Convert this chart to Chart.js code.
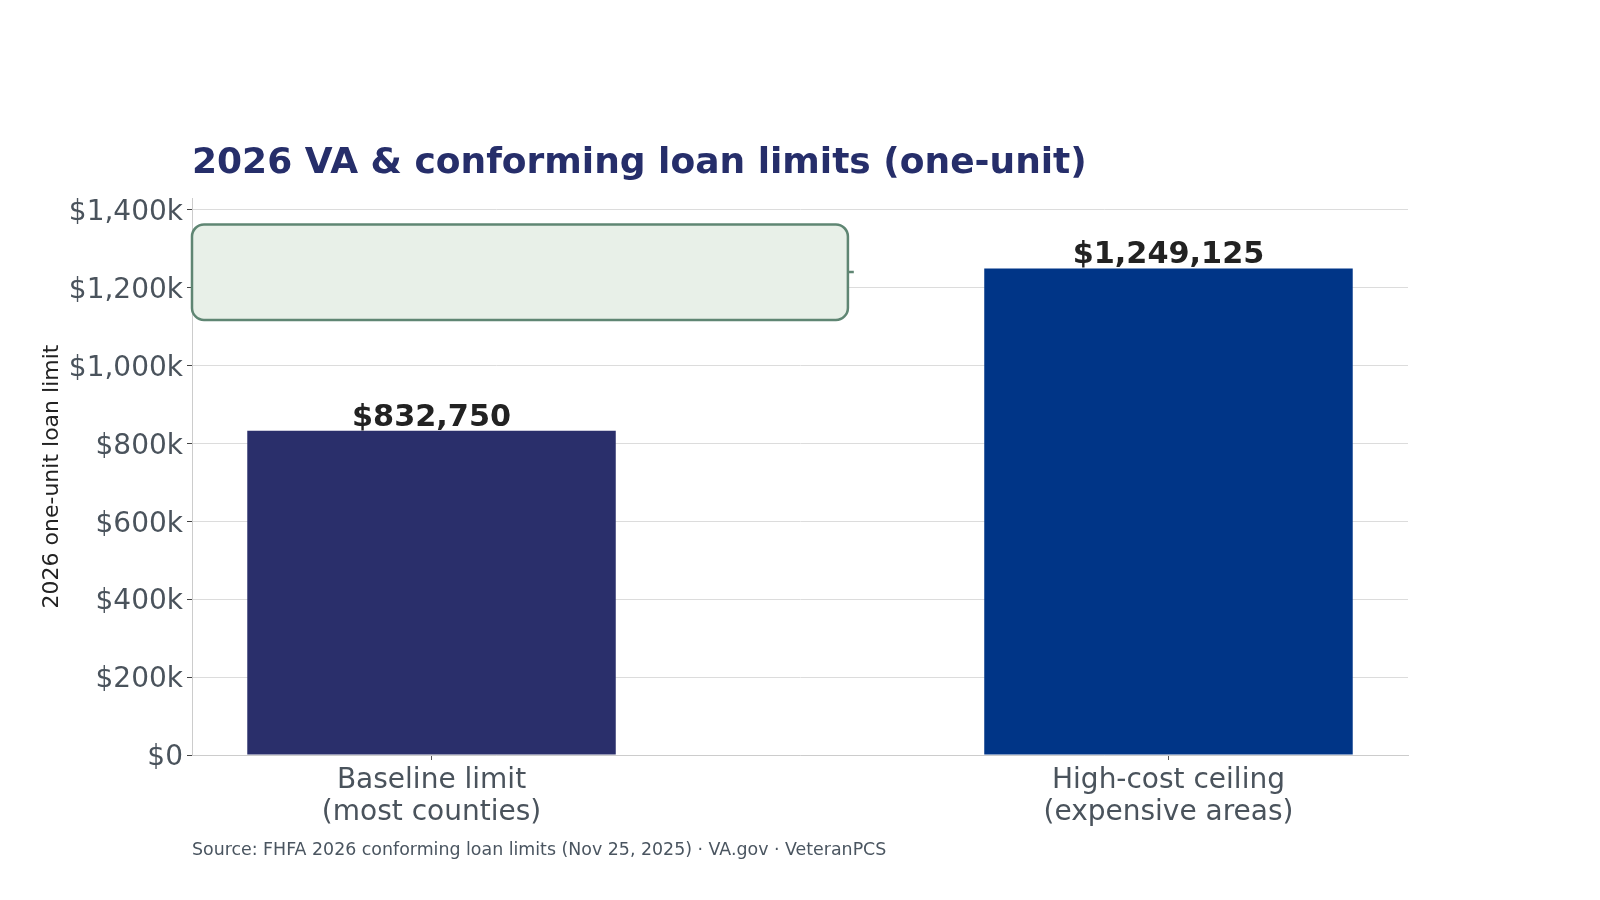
<!DOCTYPE html>
<html>
<head>
<meta charset="utf-8">
<title>2026 VA & conforming loan limits</title>
<script src="https://cdn.jsdelivr.net/npm/chart.js@4.4.1/dist/chart.umd.min.js"></script>
<style>
  html, body { margin: 0; padding: 0; background: #ffffff; }
  #wrap { width: 1600px; height: 900px; }
</style>
</head>
<body>
<div id="wrap"><canvas id="loanChart" width="1600" height="900"></canvas></div>
<script>
const categories = [
  ["Baseline limit", "(most counties)"],
  ["High-cost ceiling", "(expensive areas)"]
];
const limits = [832750, 1249125];
const barColors = ["#2a2f6b", "#003587"];
const yTicks = [0, 200000, 400000, 600000, 800000, 1000000, 1200000, 1400000];

const titleText = "2026 VA & conforming loan limits (one-unit)";
const sourceText = "Source: FHFA 2026 conforming loan limits (Nov 25, 2025) \u00b7 VA.gov \u00b7 VeteranPCS";

// callout box sits in data space, stub points at the high-cost bar
const callout = { x0: -0.325, x1: 0.565, y0: 1117000, y1: 1362000, stubY: 1240000, stubX: 0.573 };

const FONT = "'DejaVu Sans', sans-serif";

function money(v) {
  return v.toLocaleString("en-US");
}

const extras = {
  id: "extras",
  afterDraw(chart) {
    const ctx = chart.ctx;
    const area = chart.chartArea;
    const x = chart.scales.x;
    const y = chart.scales.y;

    ctx.save();
    // title
    ctx.fillStyle = "#262e6a";
    ctx.font = "bold 36px " + FONT;
    ctx.textAlign = "left";
    ctx.textBaseline = "alphabetic";
    ctx.fillText(titleText, area.left, 173);

    // source
    ctx.fillStyle = "#4a5560";
    ctx.font = "17.4px " + FONT;
    ctx.textBaseline = "middle";
    ctx.fillText(sourceText, area.left, 850);

    // value labels
    ctx.fillStyle = "#222222";
    ctx.font = "bold 30.3px " + FONT;
    ctx.textAlign = "center";
    ctx.textBaseline = "alphabetic";
    limits.forEach((v, i) => {
      ctx.fillText("$" + money(v), x.getPixelForValue(i), y.getPixelForValue(v) - 5);
    });

    // callout box
    const bx0 = x.getPixelForValue(callout.x0);
    const bx1 = x.getPixelForValue(callout.x1);
    const by0 = y.getPixelForValue(callout.y1);
    const by1 = y.getPixelForValue(callout.y0);
    ctx.strokeStyle = "#5f8673";
    ctx.lineWidth = 2.5;
    ctx.beginPath();
    ctx.moveTo(bx1, y.getPixelForValue(callout.stubY));
    ctx.lineTo(x.getPixelForValue(callout.stubX), y.getPixelForValue(callout.stubY));
    ctx.stroke();
    ctx.fillStyle = "#e8f0e8";
    ctx.beginPath();
    ctx.roundRect(bx0, by0, bx1 - bx0, by1 - by0, 12);
    ctx.fill();
    ctx.stroke();
    ctx.restore();
  }
};

const ctx = document.getElementById("loanChart").getContext("2d");
new Chart(ctx, {
  type: "bar",
  data: {
    datasets: [{
      data: limits.map((v, i) => ({ x: i, y: v })),
      backgroundColor: barColors,
      borderWidth: 0,
      barPercentage: 0.5,
      categoryPercentage: 1.0
    }]
  },
  options: {
    responsive: false,
    animation: false,
    devicePixelRatio: 1,
    layout: { padding: { top: 198, right: 192, left: 0, bottom: 0 } },
    plugins: {
      legend: { display: false },
      tooltip: { enabled: false }
    },
    scales: {
      x: {
        type: "linear",
        min: -0.325,
        max: 1.325,
        offset: false,
        afterBuildTicks: scale => { scale.ticks = categories.map((c, i) => ({ value: i })); },
        afterFit: scale => { scale.height = 145; },
        ticks: {
          callback: v => categories[v],
          font: { family: FONT, size: 28, lineHeight: 1.16 },
          color: "#4a535c",
          padding: 4,
          maxRotation: 0,
          autoSkip: false
        },
        grid: { offset: false, drawOnChartArea: false, drawTicks: true, tickLength: 5, tickColor: "#555555" },
        border: { color: "#cccccc", width: 1 }
      },
      y: {
        min: 0,
        max: 1430000,
        afterBuildTicks: scale => { scale.ticks = yTicks.map(v => ({ value: v })); },
        afterFit: scale => { scale.width = 192; },
        ticks: {
          callback: v => v === 0 ? "$0" : "$" + money(v / 1000) + "k",
          font: { family: FONT, size: 28 },
          color: "#4a535c",
          padding: 4,
          labelOffset: 3
        },
        grid: { color: "#dcdcdc", tickLength: 5, tickColor: "#444444" },
        border: { color: "#cccccc", width: 1 },
        title: {
          display: true,
          text: "2026 one-unit loan limit",
          font: { family: FONT, size: 22 },
          color: "#222222",
          padding: { top: 39, bottom: 0 }
        }
      }
    }
  },
  plugins: [extras]
});
</script>
</body>
</html>
